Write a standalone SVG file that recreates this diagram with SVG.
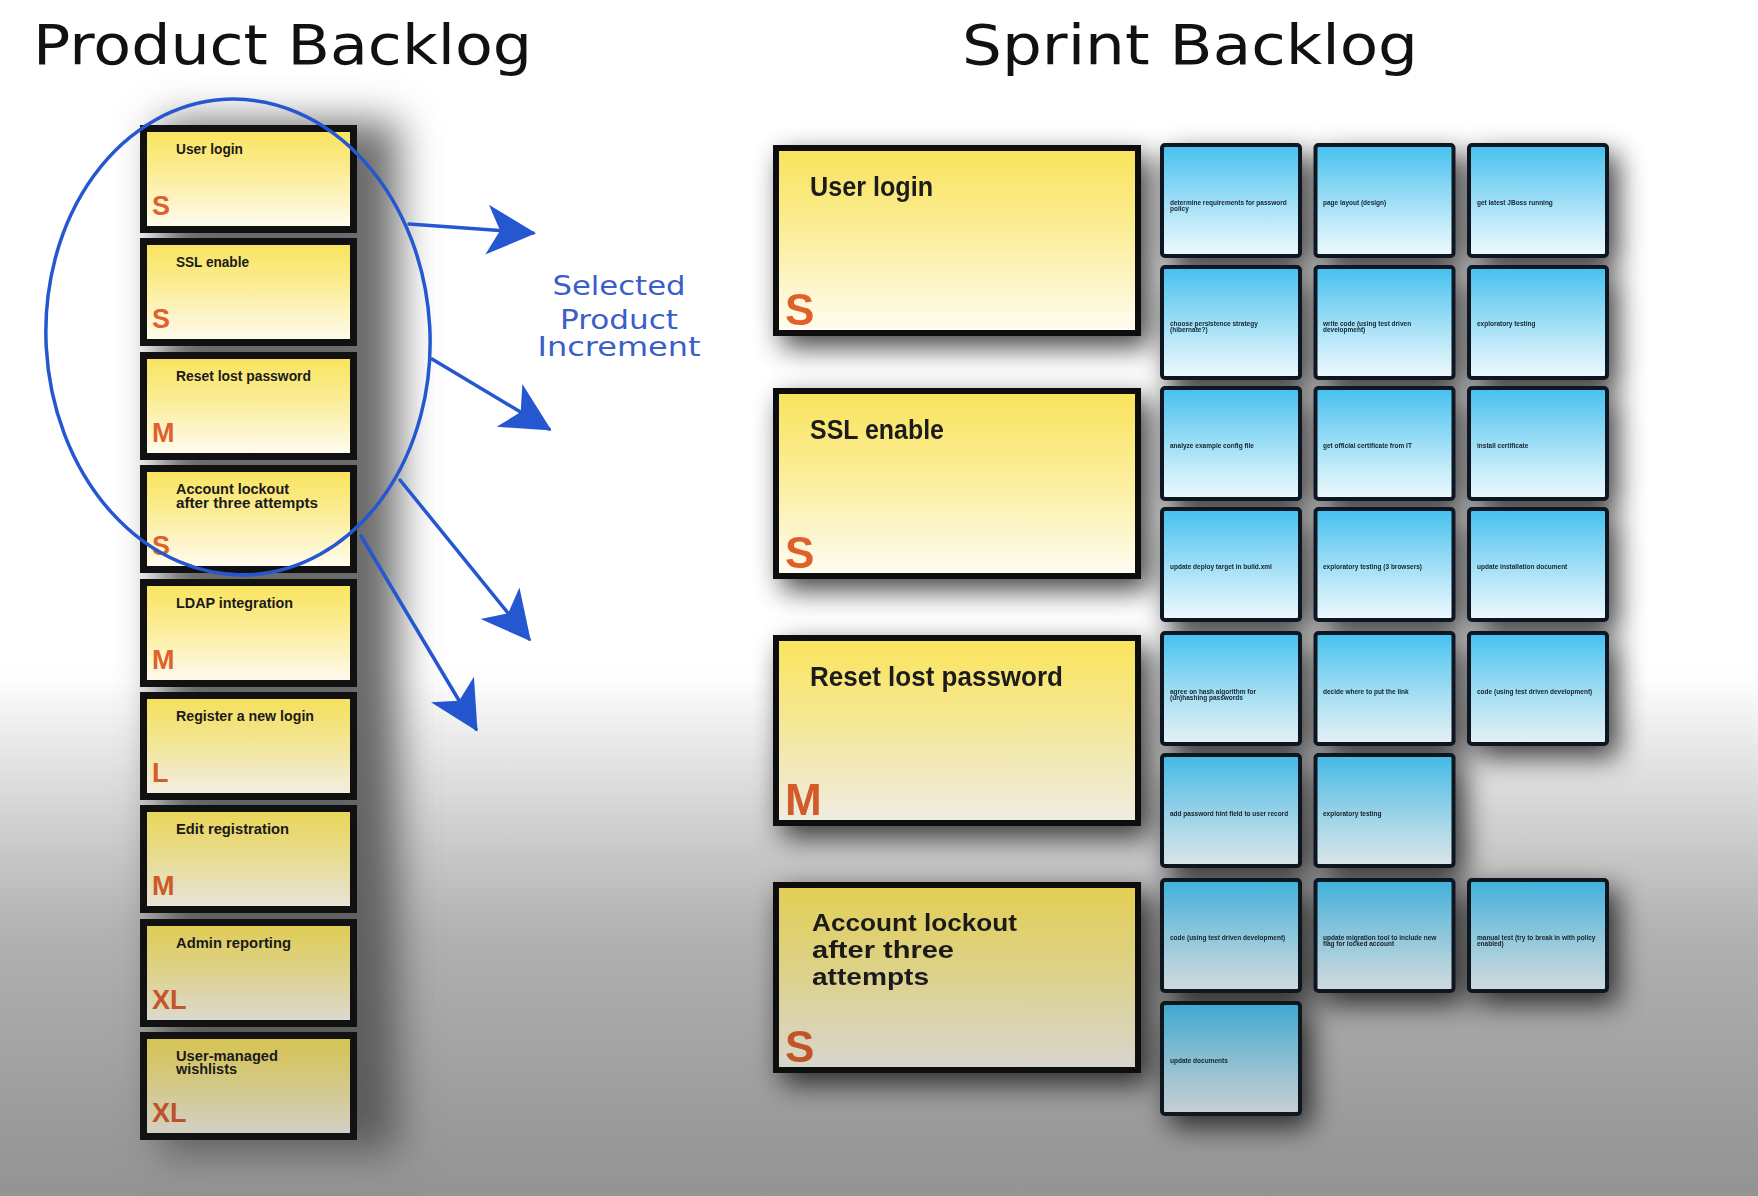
<svg xmlns="http://www.w3.org/2000/svg" width="1758" height="1196" viewBox="0 0 1758 1196">
<defs>
  <linearGradient id="bg" x1="0" y1="0" x2="0" y2="1">
    <stop offset="0" stop-color="#ffffff"/>
    <stop offset="0.57" stop-color="#ffffff"/>
    <stop offset="0.64" stop-color="#ececec"/>
    <stop offset="0.78" stop-color="#c6c6c6"/>
    <stop offset="1" stop-color="#b4b4b4"/>
  </linearGradient>
  <linearGradient id="dim" x1="0" y1="0" x2="0" y2="1">
    <stop offset="0" stop-color="#000" stop-opacity="0"/>
    <stop offset="0.55" stop-color="#000" stop-opacity="0"/>
    <stop offset="1" stop-color="#1e1e1e" stop-opacity="0.22"/>
  </linearGradient>
  <linearGradient id="yel" x1="0" y1="0" x2="0" y2="1">
    <stop offset="0" stop-color="#f9e35a"/>
    <stop offset="0.4" stop-color="#fbec90"/>
    <stop offset="0.78" stop-color="#fdf6cf"/>
    <stop offset="1" stop-color="#fffdf4"/>
  </linearGradient>
  <linearGradient id="blu" x1="0" y1="0" x2="0" y2="1">
    <stop offset="0" stop-color="#43c1ee"/>
    <stop offset="0.3" stop-color="#7bd2f3"/>
    <stop offset="0.72" stop-color="#c3ebf9"/>
    <stop offset="1" stop-color="#eef9fd"/>
  </linearGradient>
  <filter id="sh" x="-20%" y="-20%" width="150%" height="150%">
    <feGaussianBlur in="SourceAlpha" stdDeviation="14"/>
    <feOffset dx="9" dy="11" result="b"/>
    <feComponentTransfer><feFuncA type="linear" slope="0.75"/></feComponentTransfer>
    <feMerge><feMergeNode/><feMergeNode in="SourceGraphic"/></feMerge>
  </filter>
  <filter id="blur" x="-50%" y="-10%" width="200%" height="120%">
    <feGaussianBlur stdDeviation="20"/>
  </filter>
  <marker id="ah" viewBox="-50 -30 56 60" refX="0" refY="0" markerWidth="56" markerHeight="60" markerUnits="userSpaceOnUse" orient="auto">
    <path d="M3,0 L-46,-25 L-33,0 L-46,25 Z" fill="#2457d0"/>
  </marker>
</defs>
<style>
  .pcard { fill:url(#yel); stroke:#111; stroke-width:7; }
  .scard { fill:url(#yel); stroke:#111; stroke-width:6; }
  .task { fill:url(#blu); stroke:#0e1820; stroke-width:4; }
  .pt { font-family:"Liberation Sans", Arial, sans-serif; font-weight:bold; font-size:14px; fill:#1b1b1b; }
  .psz { font-family:"Liberation Sans", Arial, sans-serif; font-weight:bold; font-size:27px; fill:#e0612b; }
  .st { font-family:"Liberation Sans", Arial, sans-serif; font-weight:bold; font-size:28px; fill:#1b1b1b; }
  .st2 { font-family:"Liberation Sans", Arial, sans-serif; font-weight:bold; font-size:23px; fill:#1b1b1b; }
  .ssz { font-family:"Liberation Sans", Arial, sans-serif; font-weight:bold; font-size:44px; fill:#e0612b; }
  .tt { font-family:"Liberation Sans", Arial, sans-serif; font-weight:bold; font-size:6.5px; fill:#15232e; }
  .title { font-family:"DejaVu Sans", Verdana, sans-serif; font-size:56px; fill:#111; }
  .sel { font-family:"DejaVu Sans", Verdana, sans-serif; font-size:26px; fill:#3b5ec8; text-anchor:middle; }
  .pen { fill:none; stroke:#2457d0; stroke-width:3.5; stroke-linecap:round; }
</style>

<rect x="0" y="0" width="1758" height="1196" fill="url(#bg)"/>

<text class="title" x="33" y="64" textLength="499" lengthAdjust="spacingAndGlyphs">Product Backlog</text>
<text class="title" x="962" y="64" textLength="456" lengthAdjust="spacingAndGlyphs">Sprint Backlog</text>

<!-- left column shadow -->
<rect x="160" y="122" width="238" height="1030" fill="#6a6a6a" filter="url(#blur)"/>

<g id="product-backlog">
  <g id="pb1"><rect class="pcard" x="143.5" y="128.5" width="210" height="101"/>
    <text class="pt" x="176" y="154" textLength="67" lengthAdjust="spacingAndGlyphs">User login</text>
    <text class="psz" x="152" y="215">S</text></g>
  <g id="pb2"><rect class="pcard" x="143.5" y="241.5" width="210" height="101"/>
    <text class="pt" x="176" y="267" textLength="73" lengthAdjust="spacingAndGlyphs">SSL enable</text>
    <text class="psz" x="152" y="328">S</text></g>
  <g id="pb3"><rect class="pcard" x="143.5" y="355.5" width="210" height="101"/>
    <text class="pt" x="176" y="381" textLength="135" lengthAdjust="spacingAndGlyphs">Reset lost password</text>
    <text class="psz" x="152" y="442">M</text></g>
  <g id="pb4"><rect class="pcard" x="143.5" y="468.5" width="210" height="101"/>
    <text class="pt" x="176" y="494" textLength="113" lengthAdjust="spacingAndGlyphs">Account lockout</text>
    <text class="pt" x="176" y="508" textLength="142" lengthAdjust="spacingAndGlyphs">after three attempts</text>
    <text class="psz" x="152" y="555">S</text></g>
  <g id="pb5"><rect class="pcard" x="143.5" y="582.5" width="210" height="101"/>
    <text class="pt" x="176" y="608" textLength="117" lengthAdjust="spacingAndGlyphs">LDAP integration</text>
    <text class="psz" x="152" y="669">M</text></g>
  <g id="pb6"><rect class="pcard" x="143.5" y="695.5" width="210" height="101"/>
    <text class="pt" x="176" y="721" textLength="138" lengthAdjust="spacingAndGlyphs">Register a new login</text>
    <text class="psz" x="152" y="782">L</text></g>
  <g id="pb7"><rect class="pcard" x="143.5" y="808.5" width="210" height="101"/>
    <text class="pt" x="176" y="834" textLength="113" lengthAdjust="spacingAndGlyphs">Edit registration</text>
    <text class="psz" x="152" y="895">M</text></g>
  <g id="pb8"><rect class="pcard" x="143.5" y="922.5" width="210" height="101"/>
    <text class="pt" x="176" y="948" textLength="115" lengthAdjust="spacingAndGlyphs">Admin reporting</text>
    <text class="psz" x="152" y="1009">XL</text></g>
  <g id="pb9"><rect class="pcard" x="143.5" y="1035.5" width="210" height="101"/>
    <text class="pt" x="176" y="1061" textLength="102" lengthAdjust="spacingAndGlyphs">User-managed</text>
    <text class="pt" x="176" y="1074" textLength="61" lengthAdjust="spacingAndGlyphs">wishlists</text>
    <text class="psz" x="152" y="1122">XL</text></g>
</g>

<g id="sprint-backlog" filter="url(#sh)">
  <g id="sb1"><rect class="scard" x="776" y="148" width="362" height="185"/>
    <text class="st" x="810" y="196" textLength="123" lengthAdjust="spacingAndGlyphs">User login</text>
    <text class="ssz" x="785" y="325">S</text></g>
  <g id="sb2"><rect class="scard" x="776" y="391" width="362" height="185"/>
    <text class="st" x="810" y="439" textLength="134" lengthAdjust="spacingAndGlyphs">SSL enable</text>
    <text class="ssz" x="785" y="568">S</text></g>
  <g id="sb3"><rect class="scard" x="776" y="638" width="362" height="185"/>
    <text class="st" x="810" y="686" textLength="253" lengthAdjust="spacingAndGlyphs">Reset lost password</text>
    <text class="ssz" x="785" y="815">M</text></g>
  <g id="sb4"><rect class="scard" x="776" y="885" width="362" height="185"/>
    <text class="st2" x="812" y="931" textLength="205" lengthAdjust="spacingAndGlyphs">Account lockout</text>
    <text class="st2" x="812" y="958" textLength="142" lengthAdjust="spacingAndGlyphs">after three</text>
    <text class="st2" x="812" y="985" textLength="117" lengthAdjust="spacingAndGlyphs">attempts</text>
    <text class="ssz" x="785" y="1062">S</text></g>

  <g id="t1"><rect class="task" x="1162" y="145" width="138" height="111" rx="3"/><text class="tt" x="1170" y="205">determine requirements for password</text><text class="tt" x="1170" y="211">policy</text></g>
  <g id="t2"><rect class="task" x="1315.5" y="145" width="138" height="111" rx="3"/><text class="tt" x="1323" y="205">page layout (design)</text></g>
  <g id="t3"><rect class="task" x="1469" y="145" width="138" height="111" rx="3"/><text class="tt" x="1477" y="205">get latest JBoss running</text></g>

  <g id="t4"><rect class="task" x="1162" y="267" width="138" height="111" rx="3"/><text class="tt" x="1170" y="326">choose persistence strategy</text><text class="tt" x="1170" y="332">(hibernate?)</text></g>
  <g id="t5"><rect class="task" x="1315.5" y="267" width="138" height="111" rx="3"/><text class="tt" x="1323" y="326">write code (using test driven</text><text class="tt" x="1323" y="332">development)</text></g>
  <g id="t6"><rect class="task" x="1469" y="267" width="138" height="111" rx="3"/><text class="tt" x="1477" y="326">exploratory testing</text></g>

  <g id="t7"><rect class="task" x="1162" y="388" width="138" height="111" rx="3"/><text class="tt" x="1170" y="448">analyze example config file</text></g>
  <g id="t8"><rect class="task" x="1315.5" y="388" width="138" height="111" rx="3"/><text class="tt" x="1323" y="448">get official certificate from IT</text></g>
  <g id="t9"><rect class="task" x="1469" y="388" width="138" height="111" rx="3"/><text class="tt" x="1477" y="448">install certificate</text></g>

  <g id="t10"><rect class="task" x="1162" y="509" width="138" height="111" rx="3"/><text class="tt" x="1170" y="569">update deploy target in build.xml</text></g>
  <g id="t11"><rect class="task" x="1315.5" y="509" width="138" height="111" rx="3"/><text class="tt" x="1323" y="569">exploratory testing (3 browsers)</text></g>
  <g id="t12"><rect class="task" x="1469" y="509" width="138" height="111" rx="3"/><text class="tt" x="1477" y="569">update installation document</text></g>

  <g id="t13"><rect class="task" x="1162" y="633" width="138" height="111" rx="3"/><text class="tt" x="1170" y="694">agree on hash algorithm for</text><text class="tt" x="1170" y="700">(un)hashing passwords</text></g>
  <g id="t14"><rect class="task" x="1315.5" y="633" width="138" height="111" rx="3"/><text class="tt" x="1323" y="694">decide where to put the link</text></g>
  <g id="t15"><rect class="task" x="1469" y="633" width="138" height="111" rx="3"/><text class="tt" x="1477" y="694">code (using test driven development)</text></g>

  <g id="t16"><rect class="task" x="1162" y="755" width="138" height="111" rx="3"/><text class="tt" x="1170" y="816">add password hint field to user record</text></g>
  <g id="t17"><rect class="task" x="1315.5" y="755" width="138" height="111" rx="3"/><text class="tt" x="1323" y="816">exploratory testing</text></g>

  <g id="t18"><rect class="task" x="1162" y="880" width="138" height="111" rx="3"/><text class="tt" x="1170" y="940">code (using test driven development)</text></g>
  <g id="t19"><rect class="task" x="1315.5" y="880" width="138" height="111" rx="3"/><text class="tt" x="1323" y="940">update migration tool to include new</text><text class="tt" x="1323" y="946">flag for locked account</text></g>
  <g id="t20"><rect class="task" x="1469" y="880" width="138" height="111" rx="3"/><text class="tt" x="1477" y="940">manual test (try to break in with policy</text><text class="tt" x="1477" y="946">enabled)</text></g>

  <g id="t21"><rect class="task" x="1162" y="1003" width="138" height="111" rx="3"/><text class="tt" x="1170" y="1063">update documents</text></g>
</g>

<g id="selection">
  <ellipse class="pen" cx="238" cy="337" rx="192" ry="238" transform="rotate(-3 238 337)"/>
  <g id="label">
    <text class="sel" x="619" y="295" textLength="133" lengthAdjust="spacingAndGlyphs">Selected</text>
    <text class="sel" x="619" y="329" textLength="118" lengthAdjust="spacingAndGlyphs">Product</text>
    <text class="sel" x="619" y="356" textLength="163" lengthAdjust="spacingAndGlyphs">Increment</text>
  </g>
</g>

<g id="connectors">
  <line class="pen" x1="409" y1="224" x2="533" y2="233" marker-end="url(#ah)"/>
  <line class="pen" x1="432" y1="359" x2="549" y2="429" marker-end="url(#ah)"/>
  <line class="pen" x1="400" y1="480" x2="529" y2="639" marker-end="url(#ah)"/>
  <line class="pen" x1="361" y1="536" x2="476" y2="729" marker-end="url(#ah)"/>
</g>

<rect x="0" y="0" width="1758" height="1196" fill="url(#dim)" pointer-events="none"/>
</svg>
